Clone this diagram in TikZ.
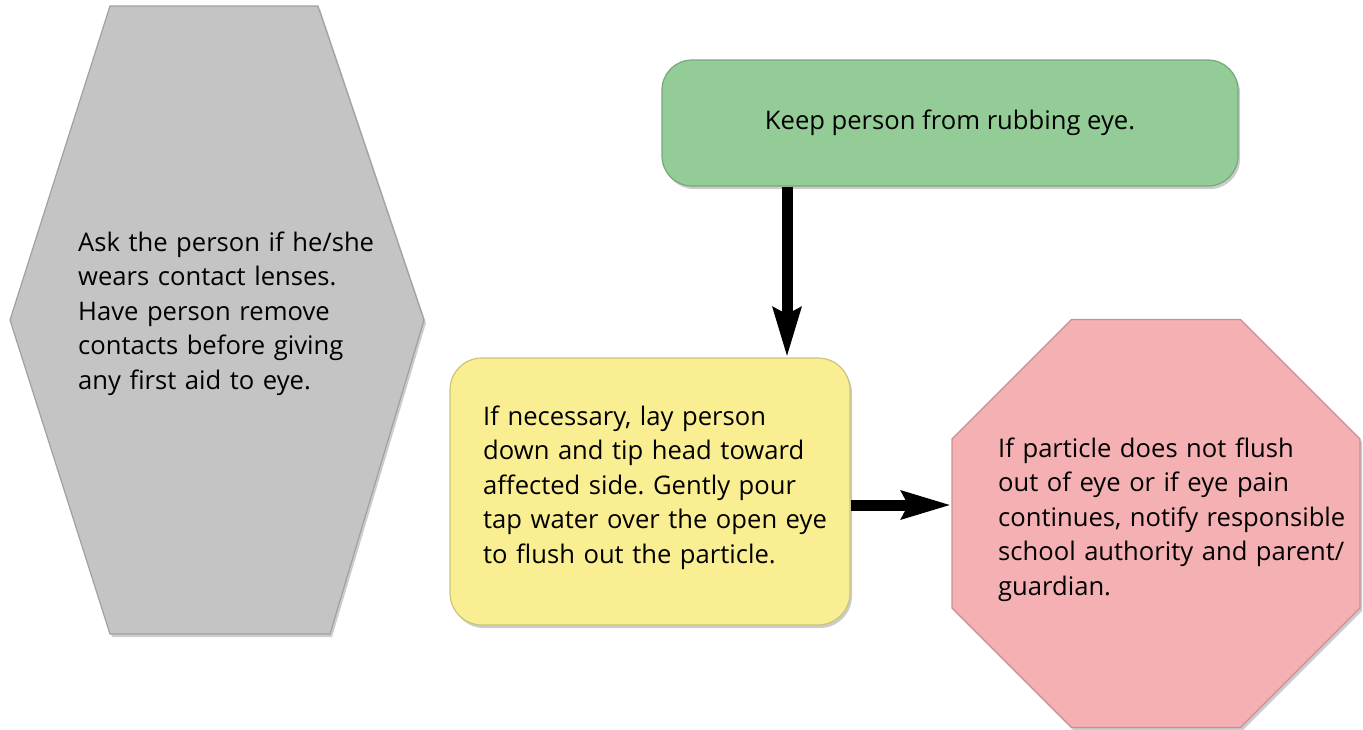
\documentclass[tikz,border=0pt]{standalone}
\usepackage{fontspec}
\setmainfont{Open Sans}
\usetikzlibrary{arrows.meta,shapes.geometric,shadows}
\frenchspacing

\definecolor{hexgray}{HTML}{C4C4C4}
\definecolor{keepgreen}{HTML}{94CC98}
\definecolor{flushyellow}{HTML}{FAEE93}
\definecolor{stoppink}{HTML}{F4B0B2}

\begin{document}
\begin{tikzpicture}[x=1pt,y=-1pt,
  panel/.style={fill=#1, draw=#1!82!black, line width=1.2pt,
    drop shadow={shadow xshift=2pt, shadow yshift=-3pt, opacity=0.2, fill=black}},
  txt/.style={inner sep=0pt, text width=#1, align=left,
    font=\fontsize{25.6}{34.5}\selectfont},
  flowarrow/.style={line width=11pt,
    -{Stealth[length=49pt,width=27pt,inset=6pt]}}]
\useasboundingbox (0,0) rectangle (1363,729);

% grey hexagon on the left
\path[panel=hexgray] (110,6) -- (318,6) -- (424,320) -- (330,634)
  -- (110,634) -- (10,320) -- cycle;
\node[txt=340pt, anchor=base west] (asktxt) at (78,251)
  {Ask the person if he/she\\wears contact lenses.\\Have person remove\\contacts before giving\\any first aid to eye.};

% green box at the top
\node[panel=keepgreen, rounded corners=30pt, minimum width=576pt,
  minimum height=126pt, inner sep=0pt, font=\fontsize{25.6}{34.5}\selectfont]
  (keep) at (950,123) {Keep person from rubbing eye.};

% yellow box in the middle
\node[panel=flushyellow, rounded corners=32pt, minimum width=400pt,
  minimum height=267pt, inner sep=0pt] (flush) at (650,491.5) {};
\node[txt=380pt, anchor=base west] (flushtxt) at (483,425)
  {If necessary, lay person\\down and tip head toward\\affected side. Gently pour\\tap water over the open eye\\to flush out the particle.};

% pink octagon on the right
\node[panel=stoppink, regular polygon, regular polygon sides=8,
  minimum size=441.6pt, inner sep=0pt] (notify) at (1156,523.5) {};
\node[txt=380pt, anchor=base west] (notifytxt) at (998,457)
  {If particle does not flush\\out of eye or if eye pain\\continues, notify responsible\\school authority and parent/\\guardian.};

% connectors
\coordinate (vsrc) at ([xshift=-163pt]keep.south);
\draw[flowarrow] (vsrc) -- (vsrc |- flush.north);
\coordinate (hsrc) at ([yshift=-13.5pt]flush.east);
\draw[flowarrow] (hsrc) -- (hsrc -| notify.west);
\end{tikzpicture}
\end{document}
